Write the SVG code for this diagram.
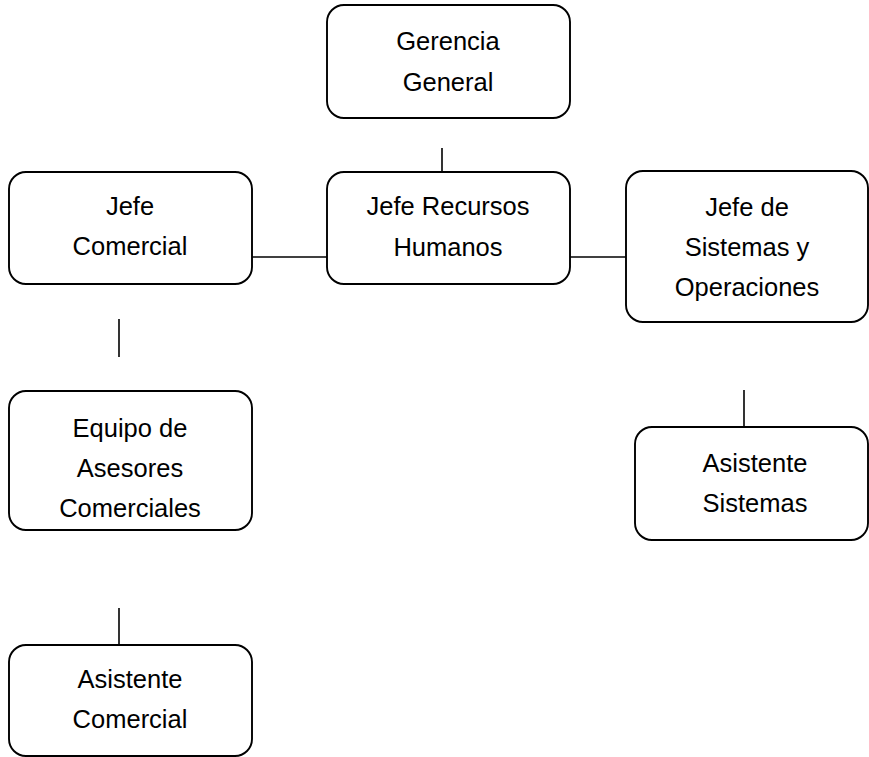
<svg xmlns="http://www.w3.org/2000/svg" width="869" height="757" viewBox="0 0 869 757">
<style>
.box{fill:#fff;stroke:#000;stroke-width:1.9}
.ln{stroke:#000;stroke-width:1.6;fill:none}
text{font-family:"Liberation Sans",Arial,sans-serif;font-size:25.5px;fill:#000;text-anchor:middle}
</style>
<rect width="869" height="757" fill="#fff"/>
<g id="connectors">
<line class="ln" x1="442" y1="148" x2="442" y2="172"/>
<line class="ln" x1="252" y1="257" x2="327" y2="257"/>
<line class="ln" x1="570" y1="257" x2="626" y2="257"/>
<line class="ln" x1="119" y1="319" x2="119" y2="357"/>
<line class="ln" x1="744" y1="390" x2="744" y2="427"/>
<line class="ln" x1="119" y1="608" x2="119" y2="645"/>
</g>
<g id="gerencia">
<rect class="box" x="327" y="5" width="243" height="113" rx="17"/>
<text x="448" y="50">Gerencia</text>
<text x="448" y="91">General</text>
</g>
<g id="rrhh">
<rect class="box" x="327" y="172" width="243" height="112" rx="17"/>
<text x="448" y="215">Jefe Recursos</text>
<text x="448" y="256">Humanos</text>
</g>
<g id="comercial">
<rect class="box" x="9" y="172" width="243" height="112" rx="17"/>
<text x="130" y="215">Jefe</text>
<text x="130" y="255">Comercial</text>
</g>
<g id="sistemas">
<rect class="box" x="626" y="171" width="242" height="151" rx="17"/>
<text x="747" y="216">Jefe de</text>
<text x="747" y="256">Sistemas y</text>
<text x="747" y="296">Operaciones</text>
</g>
<g id="equipo">
<rect class="box" x="9" y="391" width="243" height="139" rx="17"/>
<text x="130" y="437">Equipo de</text>
<text x="130" y="477">Asesores</text>
<text x="130" y="517">Comerciales</text>
</g>
<g id="asistente-sistemas">
<rect class="box" x="635" y="427" width="233" height="113" rx="17"/>
<text x="755" y="472">Asistente</text>
<text x="755" y="512">Sistemas</text>
</g>
<g id="asistente-comercial">
<rect class="box" x="9" y="645" width="243" height="111" rx="17"/>
<text x="130" y="688">Asistente</text>
<text x="130" y="728">Comercial</text>
</g>
</svg>
